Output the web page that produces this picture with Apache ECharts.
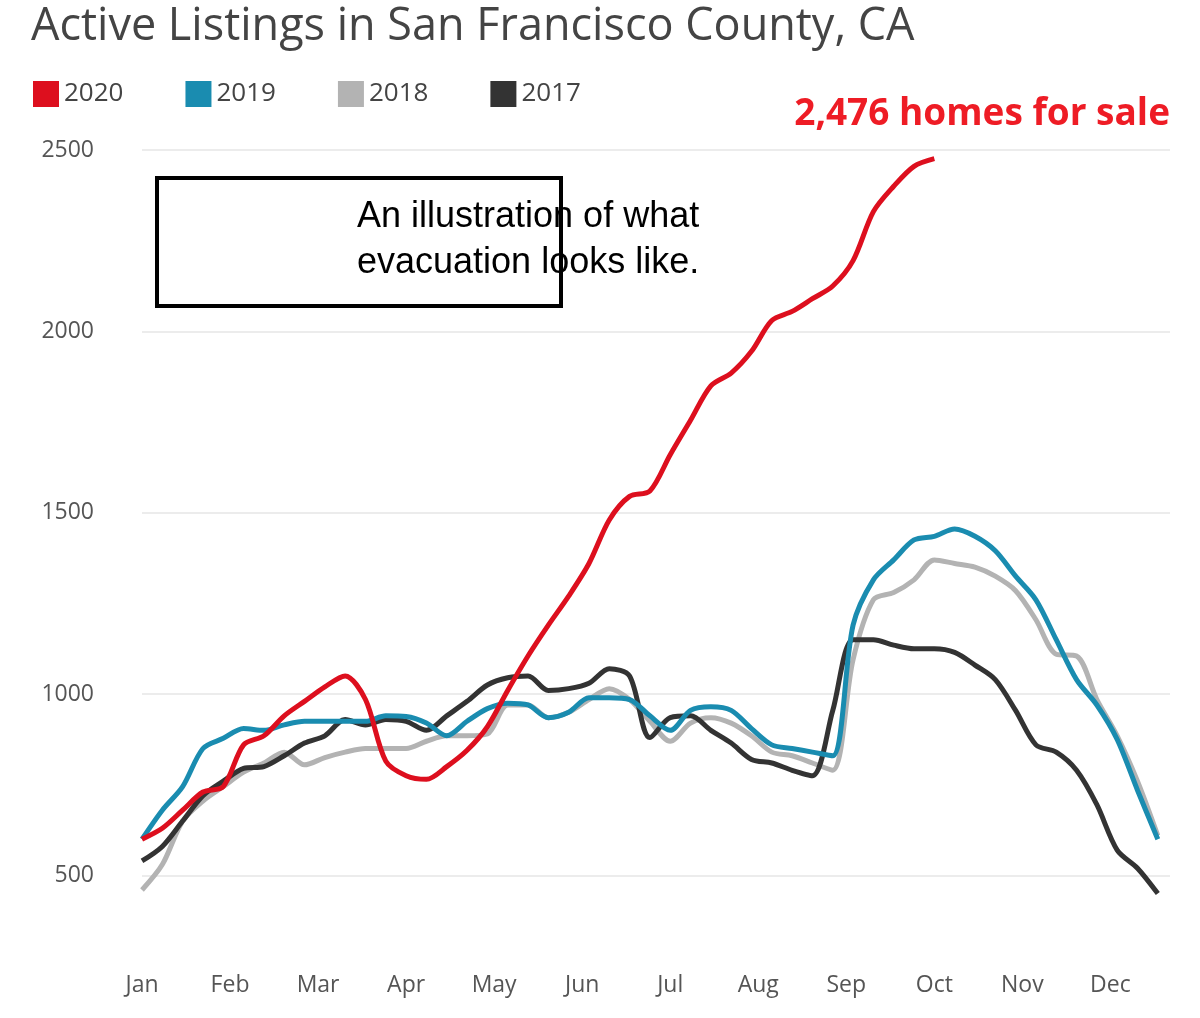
<!doctype html>
<html lang="en">
<head>
<meta charset="UTF-8">
<title>Active Listings in San Francisco County, CA</title>
<script src="https://cdn.jsdelivr.net/npm/echarts@6/dist/echarts.min.js"></script>
<style>
  body { margin: 0; background: #fff; }
  #main { width: 1200px; height: 1018px; }
</style>
</head>
<body>
<div id="main"></div>
<script type="text/javascript">
    // month names on the x axis (axis runs in weeks)
    var months = ['Jan','Feb','Mar','Apr','May','Jun','Jul','Aug','Sep','Oct','Nov','Dec'];
    var weeksPerMonth = 52 / 12;

    // weekly active listings
    var y2020 = [600,630,680,730,745,860,885,940,980,1020,1050,985,815,775,765,800,845,910,1010,1105,
                 1190,1270,1360,1480,1545,1560,1660,1755,1850,1885,1945,2030,2055,2090,2125,2195,2330,2400,2455,2476];
    var y2019 = [600,680,745,850,878,905,900,915,925,925,925,925,940,938,920,885,925,960,975,970,
                 935,950,990,990,985,940,900,955,965,955,905,860,850,840,830,1190,1315,1370,1425,1435,
                 1455,1435,1395,1325,1260,1150,1040,970,875,735,600];
    var y2018 = [460,530,650,705,745,785,810,840,805,825,840,850,850,850,870,885,885,890,970,970,
                 935,950,985,1015,985,925,870,920,935,920,885,840,830,810,790,1095,1260,1280,1315,1370,
                 1360,1350,1325,1285,1205,1110,1105,985,885,760,610];
    var y2017 = [540,580,650,720,760,795,800,830,865,885,930,915,930,925,900,940,980,1025,1045,1050,
                 1010,1015,1030,1070,1050,880,935,940,900,865,820,810,790,775,955,1150,1150,1135,1125,1125,
                 1115,1080,1040,955,860,840,790,695,570,520,450];

    var yTicks = [500, 1000, 1500, 2000, 2500];

    function toPoints(vals) {
        var pts = [];
        for (var i = 0; i < vals.length; i++) pts.push([i, vals[i]]);
        return pts;
    }

    var myChart = echarts.init(document.getElementById('main'));

    function line(name, vals, color) {
        return {
            name: name, type: 'line', data: toPoints(vals),
            showSymbol: false, smooth: 0.3,
            lineStyle: { width: 5, color: color }, itemStyle: { color: color }
        };
    }

    var option = {
        animation: false,
        title: {
            text: 'Active Listings in San Francisco County, CA',
            left: 26, top: 0,
            textStyle: { fontFamily: 'Open Sans', fontSize: 45, fontWeight: 'normal', color: '#444' }
        },
        legend: {
            left: 28, top: 76, icon: 'rect', itemWidth: 26, itemHeight: 26, itemGap: 62,
            textStyle: { fontFamily: 'Open Sans', fontSize: 26, color: '#444' },
            data: ['2020', '2019', '2018', '2017']
        },
        grid: { left: 142, right: 30, top: 150, bottom: 70 },
        xAxis: {
            type: 'value', min: 0, max: 50.6, interval: weeksPerMonth,
            axisLine: { show: false }, axisTick: { show: false }, splitLine: { show: false },
            axisLabel: {
                margin: 26, fontFamily: 'Open Sans', fontSize: 23, color: '#555',
                showMaxLabel: false,
                formatter: function (v) { return months[Math.round(v / weeksPerMonth)] || ''; }
            }
        },
        yAxis: {
            type: 'value', min: 300, max: 2500, interval: 100,
            axisLine: { show: false }, axisTick: { show: false },
            // only 500, 1000, ... get a label and a grid line
            splitLine: { lineStyle: { color: ['transparent','transparent','#ececec','transparent','transparent'], width: 2 } },
            axisLabel: {
                margin: 48, fontFamily: 'Open Sans', fontSize: 23, color: '#555',
                formatter: function (v) { return yTicks.indexOf(v) >= 0 ? v : ''; }
            }
        },
        series: [
            line('2018', y2018, '#b3b3b3'),
            line('2017', y2017, '#333333'),
            line('2019', y2019, '#1a8cb0'),
            line('2020', y2020, '#dd0f1e')
        ],
        graphic: [
            {
                type: 'rect', left: 155, top: 176,
                shape: { width: 404, height: 128 },
                style: { fill: '#fff', stroke: '#000', lineWidth: 4 }, z: 100
            },
            {
                type: 'text', left: 357, top: 194, z: 101,
                style: {
                    text: 'An illustration of what\nevacuation looks like.',
                    font: '36px "Liberation Sans", Arial, sans-serif', fill: '#000',
                    lineHeight: 46, align: 'center'
                }
            },
            {
                type: 'text', right: 30, top: 96, z: 101,
                style: {
                    text: '2,476 homes for sale',
                    font: 'bold 37px "Open Sans", sans-serif', fill: '#ee1c25'
                }
            }
        ]
    };
    myChart.setOption(option);
</script>
</body>
</html>
